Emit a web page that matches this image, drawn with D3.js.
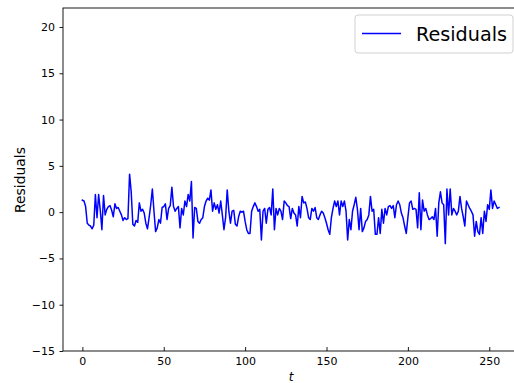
<!DOCTYPE html>
<html>
<head>
<meta charset="utf-8">
<script src="https://cdn.jsdelivr.net/npm/d3@7"></script>
<style>
  html, body { margin: 0; padding: 0; background: #fff; }
  svg { display: block; font-family: "DejaVu Sans", sans-serif; }
</style>
</head>
<body>
<svg id="chart" width="514" height="383"></svg>
<script>
// ---- data ----
const seriesName = "Residuals";
const residuals = [
  1.3, 1.2, 0.6, -1.2, -1.4, -1.5, -1.8, -1.4, 1.9, -0.6,
  1.9, 0.2, -1.9, 1.8, -0.3, 0.3, 0.6, 0.7, 0.2, -0.5,
  0.9, 0.4, 0.5, 0.1, -0.3, -0.9, -0.6, -0.8, -0.7, 4.1,
  2.2, -1.3, -1.5, -0.9, -1.1, 1.0, 0.1, 0.3, -0.1, -1.2,
  -1.8, -0.6, 0.8, 2.5, 0.1, -2.1, -1.7, -0.8, -1.2, 0.5,
  0.6, 0.9, -0.8, 0.4, 0.7, 2.7, 0.6, 0.1, 0.4, 0.6,
  -1.7, 0.4, -0.3, 1.2, 0.6, 1.9, 1.2, 3.3, -2.8, 0.5,
  0.4, -1.0, -1.2, -0.8, -0.6, 0.6, 1.2, 1.5, 1.3, 2.4,
  0.1, 1.0, 0.3, 0.8, -0.1, 1.2, -0.3, -1.9, -0.6, 2.4,
  0.1, -1.2, 0.1, 0.2, -1.3, -1.5, -0.5, 0.1, 0.0, 0.1,
  -1.0, -1.9, -2.3, -2.3, 0.1, 0.6, 1.0, 0.6, 0.1, 0.3,
  -3.0, 0.1, 0.4, -1.2, 0.3, 0.5, -0.3, 2.5, -1.9, 0.4,
  -0.3, 0.4, 0.1, -0.8, 1.2, 1.0, 0.7, 0.6, -0.7, 0.4,
  -0.1, -0.3, -1.5, 0.6, -0.6, 1.7, 1.0, 1.1, 0.4, -0.6,
  -0.8, 0.4, 0.1, 0.5, -0.6, -0.8, -0.3, 0.1, -0.1, -0.6,
  -1.2, -1.9, -2.4, -0.6, 0.4, 1.2, 0.6, 1.2, -0.3, 1.2,
  0.6, 1.2, 0.1, -3.0, -0.8, -1.9, 0.1, 0.8, 1.6, 0.3,
  -1.9, 0.4, -2.1, -1.7, -1.0, -0.8, -0.3, 1.7, 0.1, 0.3,
  -2.4, -2.4, -0.6, -2.3, 0.3, -1.2, 0.4, -0.3, 0.6, 0.7,
  0.4, 0.7, -0.6, 0.8, 1.2, 0.8, -0.1, -0.6, -1.5, -2.3,
  -0.6, 1.0, 1.2, 0.3, 0.4, 0.3, -1.7, 2.1, -1.9, 1.3,
  0.1, 0.4, -0.3, -0.8, -0.7, -0.5, -0.8, 0.4, -2.6, 1.0,
  2.2, 1.0, 0.8, -3.4, 2.5, -0.3, 2.5, -0.3, 0.4, 0.1,
  -0.3, 0.1, 1.7, 0.4, -0.5, -1.5, 1.2, 0.8, 0.4, 0.1,
  -0.3, -2.6, -1.0, -2.1, -2.4, -0.6, -2.3, 0.1, -1.0, 0.8,
  0.3, 2.4, 0.4, 1.2, 0.8, 0.4, 0.5
];
const xTicks = [0, 50, 100, 150, 200, 250];
const yTicks = [-15, -10, -5, 0, 5, 10, 15, 20];
const xDomain = [-11.9, 265.2];
const yDomain = [-15, 22.05];
const xLabel = "t";
const yLabel = "Residuals";

// ---- layout ----
const svg = d3.select("#chart");
const plotL = 63, plotR = 514, plotT = 8, plotB = 351;

const x = d3.scaleLinear().domain(xDomain).range([plotL, plotR]);
const y = d3.scaleLinear().domain(yDomain).range([plotB, plotT]);

// frame (right spine lies outside the picture)
svg.append("rect")
  .attr("x", plotL).attr("y", plotT)
  .attr("width", 520 - plotL).attr("height", plotB - plotT)
  .attr("fill", "none").attr("stroke", "#000").attr("stroke-width", 0.9);

// line
const line = d3.line()
  .x((d, i) => x(i))
  .y(d => y(d));
svg.append("path")
  .datum(residuals)
  .attr("d", line)
  .attr("fill", "none")
  .attr("stroke", "#0000ff")
  .attr("stroke-width", 1.5)
  .attr("stroke-linejoin", "round")
  .attr("stroke-linecap", "square");

// axes
const fmt = d3.format("d");
const yAxis = d3.axisLeft(y).tickValues(yTicks).tickFormat(fmt)
  .tickSizeInner(3.5).tickSizeOuter(0).tickPadding(4.5);
const gy = svg.append("g").attr("transform", `translate(${plotL},0)`).call(yAxis);
gy.select(".domain").remove();
gy.selectAll("line").attr("stroke", "#000").attr("stroke-width", 0.9);
gy.selectAll("text").attr("font-size", "11px").attr("fill", "#000")
  .attr("font-family", "DejaVu Sans");

const xAxis = d3.axisBottom(x).tickValues(xTicks).tickFormat(fmt)
  .tickSizeInner(-4).tickSizeOuter(0).tickPadding(6.3);
const gx = svg.append("g").attr("transform", `translate(0,${plotB})`).call(xAxis);
gx.select(".domain").remove();
gx.selectAll("line").attr("stroke", "#000").attr("stroke-width", 0.9);
gx.selectAll("text").attr("font-size", "11px").attr("fill", "#000")
  .attr("font-family", "DejaVu Sans");

// axis labels
svg.append("text")
  .attr("transform", "translate(25,180) rotate(-90)")
  .attr("text-anchor", "middle")
  .attr("font-size", "13.9px")
  .attr("fill", "#000")
  .text(yLabel);

svg.append("text")
  .attr("x", 291).attr("y", 381)
  .attr("text-anchor", "middle")
  .attr("font-size", "12px")
  .attr("font-style", "italic")
  .attr("fill", "#000")
  .text(xLabel);

// legend
const lg = svg.append("g");
lg.append("rect")
  .attr("x", 355).attr("y", 15).attr("width", 158).attr("height", 38)
  .attr("rx", 3).attr("ry", 3)
  .attr("fill", "#fff").attr("fill-opacity", 0.8)
  .attr("stroke", "#cccccc").attr("stroke-width", 0.9);
lg.append("line")
  .attr("x1", 362).attr("x2", 401).attr("y1", 33.5).attr("y2", 33.5)
  .attr("stroke", "#0000ff").attr("stroke-width", 1.5);
lg.append("text")
  .attr("x", 416).attr("y", 41)
  .attr("font-size", "19.2px")
  .attr("fill", "#000")
  .text(seriesName);
</script>
</body>
</html>
